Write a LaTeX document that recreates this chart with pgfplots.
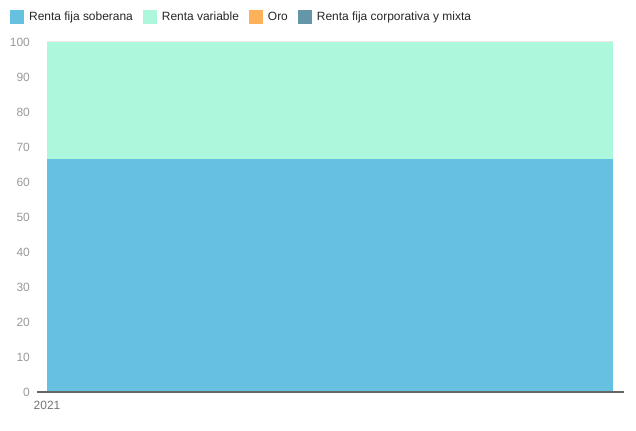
\documentclass[border=0pt]{standalone}
\usepackage{fontspec}
\setmainfont{Liberation Sans}
\usepackage{pgfplots}
\pgfplotsset{compat=1.18}
\definecolor{csob}{HTML}{65C1DF}
\definecolor{cvar}{HTML}{ADF7DD}
\definecolor{coro}{HTML}{FDB25A}
\definecolor{ccor}{HTML}{6496A8}
\definecolor{ylab}{HTML}{999999}
\definecolor{xlab}{HTML}{757575}
\definecolor{base}{HTML}{666666}
\begin{document}
\begin{tikzpicture}
\useasboundingbox (0,0) rectangle (636bp,431bp);
\begin{axis}[
  at={(37bp,39bp)}, anchor=south west,
  scale only axis, width=587bp, height=350bp,
  xmin=-0.0177, xmax=1.0194, ymin=0, ymax=100,
  stack plots=y, area style,
  xtick={0}, xticklabels={2021},
  ytick={0,10,...,100},
  major tick length=0pt,
  axis x line*=bottom, axis y line*=left,
  x axis line style={draw=base, line width=2bp, -},
  y axis line style={draw=none},
  /pgf/number format/assume math mode=true,
  font=\fontsize{12}{14}\selectfont,
  yticklabel style={text=ylab, inner sep=0pt, xshift=-7bp},
  xticklabel style={text=xlab, inner sep=0pt, yshift=-9bp, anchor=north},
  legend columns=4,
  legend style={at={(axis description cs:-0.046,1.0714)}, anchor=west,
    draw=none, fill=none, inner sep=0pt, font=\fontsize{12}{14}\selectfont,
    nodes={inner sep=0pt, text=black!85},
    /tikz/every odd column/.append style={column sep=5bp},
    /tikz/every even column/.append style={column sep=10bp}},
  legend cell align=left,
  legend image code/.code={\fill[#1,draw=none] (0bp,-7bp) rectangle (14bp,7bp);},
]
\addplot[fill=csob, draw=none] coordinates {(0,66.67) (1,66.67)} \closedcycle;
\addlegendentry{Renta fija soberana}
\addplot[fill=cvar, draw=none] coordinates {(0,33.33) (1,33.33)} \closedcycle;
\addlegendentry{Renta variable}
\addplot[fill=coro, draw=none] coordinates {(0,0) (1,0)} \closedcycle;
\addlegendentry{Oro}
\addplot[fill=ccor, draw=none] coordinates {(0,0) (1,0)} \closedcycle;
\addlegendentry{Renta fija corporativa y mixta}
\end{axis}
\end{tikzpicture}
\end{document}
